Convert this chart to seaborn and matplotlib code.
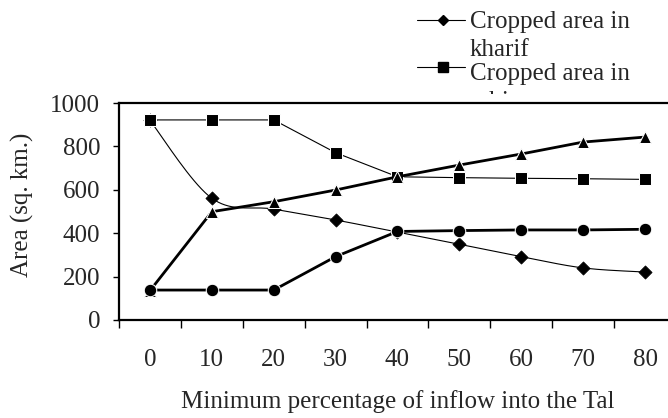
import numpy as np
import matplotlib
matplotlib.use("Agg")
import matplotlib.pyplot as plt
import seaborn as sns
from matplotlib.lines import Line2D
from matplotlib.patches import Rectangle

categories = [0, 10, 20, 30, 40, 50, 60, 70, 80]
kharif = [920, 561, 511, 461, 405, 349, 292, 240, 221]
rabi = [922, 922, 922, 771, 660, 656, 653, 651, 648]
triangle_series = [135, 499, 545, 599, 660, 714, 765, 820, 843]
circle_series = [138, 138, 138, 292, 408, 412, 415, 415, 418]
tick_labels = [str(c) for c in categories]
legend_lines = [['Cropped area in', 'kharif'], ['Cropped area in', 'rabi']]

sns.set_theme(style="ticks")
plt.rcParams['font.family'] = ['Liberation Serif', 'DejaVu Serif']
FS = 18
plt.rcParams.update({'font.size': FS, 'xtick.labelsize': FS, 'ytick.labelsize': FS,
                     'axes.labelsize': FS})

fig = plt.figure(figsize=(6.68, 4.18), dpi=100)
W, H = 668, 418
ax = fig.add_axes([119 / W, 1 - 320 / H, 557 / W, 217 / H])
ax.set_zorder(5)
ax.patch.set_facecolor('white')

x = np.arange(len(categories))


def smooth(xs, ys, n=20):
    # Catmull-Rom style bezier smoothing (like spreadsheet "smoothed line")
    xs = np.asarray(xs, float); ys = np.asarray(ys, float)
    px, py = [], []
    for i in range(len(xs) - 1):
        x0, y0 = (xs[i - 1], ys[i - 1]) if i > 0 else (xs[i], ys[i])
        x1, y1 = xs[i], ys[i]
        x2, y2 = xs[i + 1], ys[i + 1]
        x3, y3 = (xs[i + 2], ys[i + 2]) if i + 2 < len(xs) else (x2, y2)
        c1 = (x1 + (x2 - x0) / 6, y1 + (y2 - y0) / 6)
        c2 = (x2 - (x3 - x1) / 6, y2 - (y3 - y1) / 6)
        t = np.linspace(0, 1, n)
        bx = (1 - t) ** 3 * x1 + 3 * (1 - t) ** 2 * t * c1[0] + 3 * (1 - t) * t ** 2 * c2[0] + t ** 3 * x2
        by = (1 - t) ** 3 * y1 + 3 * (1 - t) ** 2 * t * c1[1] + 3 * (1 - t) * t ** 2 * c2[1] + t ** 3 * y2
        px.extend(bx); py.extend(by)
    return np.array(px), np.array(py)


sx, sy = smooth(x, kharif)
ax.plot(sx, sy, color='black', lw=0.8, zorder=2)
sns.scatterplot(x=x, y=kharif, marker='D', s=45, color='black', edgecolor='black', ax=ax, zorder=3)
sns.lineplot(x=x, y=rabi, color='black', lw=0.8, marker='s', markersize=8, ax=ax, zorder=3)
sns.lineplot(x=x, y=triangle_series, color='black', lw=2.0, marker='^', markersize=9, ax=ax, zorder=3)
sns.lineplot(x=x, y=circle_series, color='black', lw=2.0, marker='o', markersize=9, ax=ax, zorder=4)

ax.set_xlim(-0.5, len(categories) - 0.5)
ax.set_ylim(0, 1000)
ax.set_yticks(range(0, 1001, 200))
ax.set_xticks(x)
ax.set_xticklabels(tick_labels)
ax.set_xticks(np.arange(-0.5, len(categories), 1), minor=True)
ax.tick_params(axis='x', which='major', length=0, pad=21)
ax.tick_params(axis='x', which='minor', length=5.5, width=1, direction='out', color='black')
ax.tick_params(axis='y', length=4.5, width=1, direction='out', color='black', pad=9)
for s in ['left', 'bottom', 'top']:
    ax.spines[s].set_linewidth(1.6)
    ax.spines[s].set_color('black')
ax.spines['right'].set_visible(False)
ax.set_xlabel('Minimum percentage of inflow into the Tal')
ax.xaxis.set_label_coords((398 - 119) / 557, (320 - 408) / 217)
ax.xaxis.label.set_va('baseline')
ax.set_ylabel('Area (sq. km.)')
ax.yaxis.set_label_coords((22 - 119) / 557, (320 - 205) / 217)
ax.yaxis.label.set_va('center')

# white plot-area margin above the axes that hides the lower part of the legend
fig.add_artist(Rectangle((119 / W, 1 - 103 / H), (W - 119) / W, 8.5 / H, transform=fig.transFigure,
                         facecolor='white', edgecolor='none', zorder=3))

# manual legend (partly hidden behind the plot area, as in the reference)
handle_specs = [('D', 5), ('s', 6.5)]
handle_y = [20, 67]
baselines = [[28, 56], [80, 108]]
for (mk, ms), hy, bl, lines in zip(handle_specs, handle_y, baselines, legend_lines):
    fig.add_artist(Line2D([417 / W, 465 / W], [1 - hy / H, 1 - hy / H], transform=fig.transFigure,
                          color='black', lw=0.8, zorder=1))
    fig.add_artist(Line2D([443 / W], [1 - hy / H], transform=fig.transFigure, color='black',
                          marker=mk, markersize=ms, lw=0, zorder=1))
    for b, txt in zip(bl, lines):
        t = fig.text(470 / W, 1 - b / H, txt, fontsize=FS, va='baseline', ha='left')
        t.set_zorder(1)

fig.savefig('out.png', dpi=100)
